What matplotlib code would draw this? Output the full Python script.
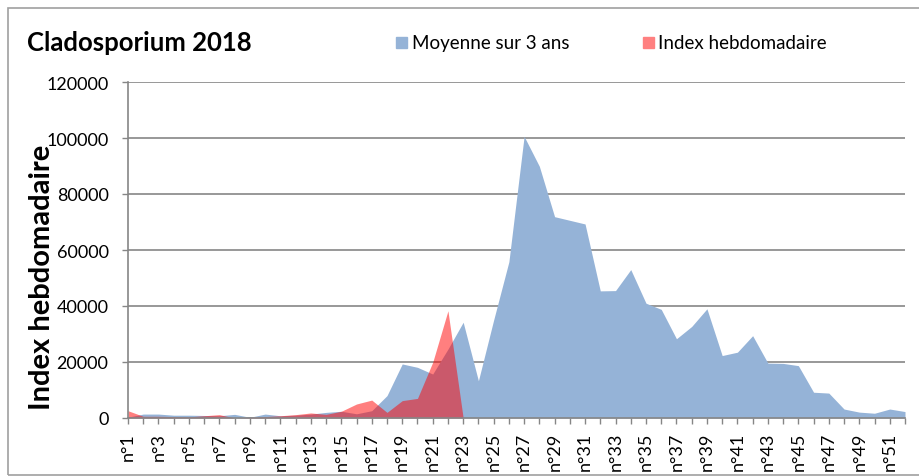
import numpy as np
import matplotlib
matplotlib.use('Agg')
import matplotlib.pyplot as plt
from matplotlib.patches import Rectangle

plt.rcParams['font.family'] = ['Lato', 'DejaVu Sans']

# weekly pollen counts
weeks = np.arange(1, 53)
week_labels = ['n°%d' % w for w in weeks]
moyenne_3ans = [300, 1400, 1400, 1000, 1000, 900, 800, 1300, 250, 1400,
                800, 1000, 1400, 2000, 2400, 1500, 2600, 8000, 19300, 18100,
                15700, 24600, 34200, 13300, 35000, 55800, 100600, 89900, 71900, 70600,
                69300, 45400, 45500, 53000, 41000, 38800, 28300, 32700, 39000, 22300,
                23500, 29400, 19600, 19500, 18700, 9200, 8900, 3200, 2100, 1700,
                3200, 2300]
index_hebdo = [2600, 600, 600, 500, 400, 800, 1200, 0, 200, 500,
               800, 1200, 1800, 1300, 2400, 5000, 6400, 2000, 6200, 7000,
               19900, 38300, 0]
yticks = [0, 20000, 40000, 60000, 80000, 100000, 120000]

blue = '#95b3d7'
red = '#ff0000'
grey = '#868686'

W, H = 919, 477
fig = plt.figure(figsize=(W / 100, H / 100), dpi=100)
ax = fig.add_axes([128 / W, 1 - 419 / H, (905 - 128) / W, (419 - 83) / H])

red_vals = np.full(len(weeks), np.nan)
red_vals[:len(index_hebdo)] = index_hebdo
ax.fill_between(weeks, 0, moyenne_3ans, color=blue, lw=0, zorder=2)
ax.fill_between(weeks, 0, red_vals, color=red, alpha=0.5, lw=0, zorder=3)

ax.set_xlim(1, 52)
ax.set_ylim(0, 120000)
ax.set_yticks(yticks)
ax.set_yticklabels([str(v) for v in yticks], fontsize=13)
ax.set_xticks(weeks)
ax.set_xticklabels([l if i % 2 == 0 else '' for i, l in enumerate(week_labels)],
                   rotation=90, fontsize=13)
ax.tick_params(axis='both', colors=grey, labelcolor='black', length=4, width=1)
ax.tick_params(axis='y', pad=10)
ax.tick_params(axis='x', pad=6)
ax.grid(axis='y', color=grey, lw=1.2, zorder=1)
ax.set_axisbelow(True)
for s in ['top', 'right']:
    ax.spines[s].set_visible(False)
for s in ['left', 'bottom']:
    ax.spines[s].set_color(grey)
    ax.spines[s].set_linewidth(1.2)
    ax.spines[s].set_zorder(4)

fig.text(50 / W, 1 - 277 / H, 'Index hebdomadaire', rotation=90, fontsize=21,
         fontweight='bold', ha='center', va='baseline', rotation_mode='anchor')
fig.text(27 / W, 1 - 51 / H, 'Cladosporium 2018', fontsize=18.5,
         fontweight='bold', ha='left', va='baseline')

# legend
fig.patches.append(Rectangle((396 / W, 1 - 49 / H), 11 / W, 11 / H,
                             transform=fig.transFigure, color=blue))
fig.text(412 / W, 1 - 49 / H, 'Moyenne sur 3 ans', fontsize=13.5, va='baseline')
fig.patches.append(Rectangle((643 / W, 1 - 49 / H), 11 / W, 11 / H,
                             transform=fig.transFigure, color='#ff8080'))
fig.text(658 / W, 1 - 49 / H, 'Index hebdomadaire', fontsize=13.5, va='baseline')

# chart border
fig.patches.append(Rectangle((7.5 / W, 1 - 475.5 / H), 920 / W, 467 / H,
                             transform=fig.transFigure, fill=False,
                             edgecolor='#a0a0a0', lw=1.2))

fig.savefig('out.png', dpi=100)
